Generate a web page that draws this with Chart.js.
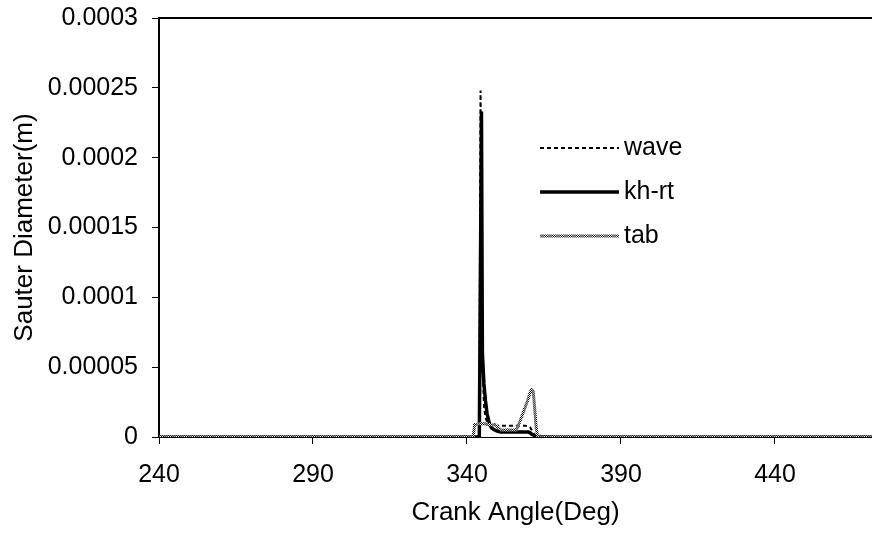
<!DOCTYPE html>
<html>
<head>
<meta charset="utf-8">
<script src="https://cdn.jsdelivr.net/npm/chart.js@4/dist/chart.umd.min.js"></script>
<style>
  html, body { margin: 0; padding: 0; background: #fff; }
  #wrap { width: 872px; height: 543px; position: relative; }
</style>
</head>
<body>
<div id="wrap"><canvas id="chart"></canvas></div>
<script>
// crank angle (deg) at which each series is read
const ANGLE = [240, 300, 340, 342, 342.5, 343, 344, 344.4, 344.7, 345, 345.5, 346, 346.5, 347, 347.5,
  348, 349, 350, 351, 352, 353, 354, 355, 356, 357, 358, 359, 360, 360.5, 361, 361.5, 362, 362.5,
  363, 364, 366, 368, 380, 420, 471.5];

// Sauter diameter (m)
const WAVE = [0, 0, 0, 0, 0, 0, 0, 248e-6, 150e-6, 60e-6, 22e-6, 14e-6, 11e-6, 9e-6, 8.5e-6,
  8e-6, 8e-6, 8e-6, 8e-6, 8e-6, 8e-6, 8e-6, 8e-6, 8e-6, 8e-6, 8e-6, 8e-6, 7.5e-6, 7e-6, 5e-6, 3e-6, 1e-6, 0,
  0, 0, 0, 0, 0, 0, 0];
const KHRT = [0, 0, 0, 0, 0, 0, 0, 130e-6, 233e-6, 60e-6, 38e-6, 26e-6, 17e-6, 12e-6, 8.5e-6,
  6.5e-6, 5e-6, 4e-6, 3.5e-6, 3.5e-6, 3.5e-6, 3.5e-6, 3.5e-6, 3.5e-6, 3.5e-6, 3.5e-6, 3.5e-6, 3.5e-6, 3e-6, 2e-6, 1.5e-6, 1e-6, 0.8e-6,
  0.6e-6, 0.4e-6, 0.2e-6, 0, 0, 0, 0];
const TAB = [0, 0, 0, 0, 9e-6, 9e-6, 9.5e-6, 9.5e-6, 9.5e-6, 9.5e-6, 9.5e-6, 9.5e-6, 9e-6, 9e-6, 9e-6,
  8.5e-6, 9e-6, 7e-6, 5e-6, 5e-6, 5e-6, 5e-6, 5e-6, 5e-6, 10e-6, 16e-6, 22e-6, 28e-6, 32e-6, 34e-6, 33e-6, 20e-6, 6e-6,
  0, 0, 0, 0, 0, 0, 0];

const SERIES = ['wave', 'kh-rt', 'tab'];
const X_TICKS = [240, 290, 340, 390, 440];
const Y_TICKS = [0, 0.00005, 0.0001, 0.00015, 0.0002, 0.00025, 0.0003];
const Y_LABELS = ['0', '0.00005', '0.0001', '0.00015', '0.0002', '0.00025', '0.0003'];

const FONT = 'Liberation Sans, Arial, sans-serif';

function pts(vals) {
  return ANGLE.map((a, i) => ({ x: a, y: vals[i] }));
}

// checkered grey pattern for the "tab" line
function tabPattern() {
  const c = document.createElement('canvas');
  c.width = 8; c.height = 2;
  const g = c.getContext('2d');
  for (let i = 0; i < 8; i++) {
    for (let j = 0; j < 2; j++) {
      if (i < 4) g.fillStyle = (i + j) % 2 ? '#000' : '#fff';
      else g.fillStyle = (i + j) % 2 ? '#555' : '#999';
      g.fillRect(i, j, 1, 1);
    }
  }
  return g.createPattern(c, 'repeat');
}

const topLine = {
  id: 'topLine',
  afterDraw(chart) {
    const ctx = chart.ctx, a = chart.chartArea;
    ctx.save();
    ctx.strokeStyle = '#000';
    ctx.lineWidth = 2;
    ctx.beginPath();
    ctx.moveTo(a.left - 1, a.top);
    ctx.lineTo(chart.width, a.top);
    ctx.stroke();
    ctx.restore();
  }
};

const sideLegend = {
  id: 'sideLegend',
  afterDraw(chart) {
    const ctx = chart.ctx;
    const rows = [148, 192, 236];
    ctx.save();
    chart.data.datasets.forEach((ds, i) => {
      const y = rows[i];
      ctx.strokeStyle = ds.borderColor;
      ctx.lineWidth = ds.borderWidth;
      ctx.setLineDash(ds.borderDash || []);
      ctx.beginPath();
      ctx.moveTo(540, y);
      ctx.lineTo(619, y);
      ctx.stroke();
      ctx.setLineDash([]);
      ctx.fillStyle = '#000';
      ctx.font = '25px ' + FONT;
      ctx.textBaseline = 'middle';
      ctx.textAlign = 'left';
      ctx.fillText(ds.label, 624, y);
    });
    ctx.restore();
  }
};

const config = {
  type: 'line',
  data: {
    datasets: [
      {
        label: SERIES[0],
        data: pts(WAVE),
        borderColor: '#000',
        borderWidth: 2,
        borderDash: [4, 3],
        order: 3
      },
      {
        label: SERIES[1],
        data: pts(KHRT),
        borderColor: '#000',
        borderWidth: 3.5,
        order: 2
      },
      {
        label: SERIES[2],
        data: pts(TAB),
        borderColor: tabPattern(),
        borderWidth: 3,
        order: 1
      }
    ]
  },
  options: {
    responsive: true,
    maintainAspectRatio: false,
    animation: false,
    layout: { padding: { top: 18, right: 0, left: 0, bottom: 0 } },
    elements: {
      point: { radius: 0 },
      line: { tension: 0, borderCapStyle: 'butt', borderJoinStyle: 'miter' }
    },
    plugins: {
      legend: { display: false },
      tooltip: { enabled: false }
    },
    scales: {
      x: {
        type: 'linear',
        min: 240,
        max: 471.5,
        afterBuildTicks(scale) { scale.ticks = X_TICKS.map(v => ({ value: v })); },
        afterFit(scale) {
          scale.height = 106;
          scale.paddingLeft = 0;
          scale.paddingRight = 0;
        },
        grid: { drawOnChartArea: false, drawTicks: true, tickLength: 7, color: '#000' },
        border: { color: '#000', width: 1 },
        ticks: {
          color: '#000',
          padding: 16,
          maxRotation: 0,
          font: { family: FONT, size: 25 }
        },
        title: {
          display: true,
          text: 'Crank Angle(Deg)',
          color: '#000',
          font: { family: FONT, size: 26 },
          padding: { top: 4, bottom: 15 }
        }
      },
      y: {
        min: 0,
        max: 0.0003,
        afterBuildTicks(scale) { scale.ticks = Y_TICKS.map(v => ({ value: v })); },
        afterFit(scale) {
          scale.width = 159;
          scale.paddingTop = 0;
          scale.paddingBottom = 0;
        },
        grid: { drawOnChartArea: false, drawTicks: true, tickLength: 7, color: '#000' },
        border: { color: '#000', width: 2 },
        ticks: {
          color: '#000',
          padding: 14,
          font: { family: FONT, size: 25 },
          callback(value, index) { return Y_LABELS[index]; }
        },
        title: {
          display: true,
          text: 'Sauter Diameter(m)',
          color: '#000',
          font: { family: FONT, size: 26 },
          padding: { top: 9, bottom: 0 }
        }
      }
    }
  },
  plugins: [topLine, sideLegend]
};

const myChart = new Chart(document.getElementById('chart'), config);
</script>
</body>
</html>
